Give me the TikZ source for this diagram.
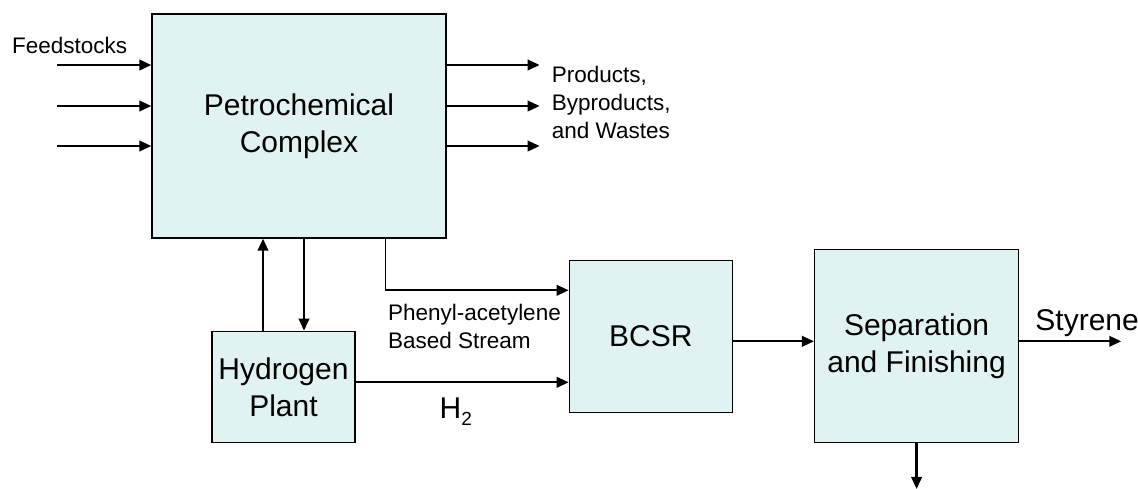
\documentclass[tikz,border=0pt]{standalone}
\usepackage{fontspec}
\setmainfont{Liberation Sans}
\usetikzlibrary{arrows.meta, positioning}
\definecolor{boxfill}{RGB}{225,242,242}

\begin{document}
\begin{tikzpicture}[
				x=1pt, y=-1pt,
				box/.style={draw, line width=1.3pt, fill=boxfill, align=center, inner sep=0pt, font=\fontsize{30}{37}\selectfont},
				lbl/.style={align=left, inner sep=0pt, font=\fontsize{22.5}{28}\selectfont},
				biglbl/.style={inner sep=0pt, font=\fontsize{30}{37}\selectfont},
				arrow/.style={-{Triangle[length=12pt,width=10.5pt]}, line width=2.3pt}
				]
				\useasboundingbox (0,0) rectangle (1138,488);
				
				% Nodes
				\node[box, minimum width=294pt, minimum height=224pt] (petro) at (299,126) {Petrochemical\\Complex};
				\node[box, minimum width=143pt, minimum height=111pt, below=92pt of petro, xshift=-15.5pt] (hyd) {Hydrogen\\Plant};
				\node[box, minimum width=163pt, minimum height=152pt, right=213pt of hyd, yshift=50.5pt] (bcsr) {BCSR};
				\node[box, minimum width=204pt, minimum height=193pt, right=81pt of bcsr, yshift=-9.5pt] (sep) {Separation\\and Finishing};
				
				% Feedstocks in, products out
				\foreach \dy [count=\i] in {61,20,-20} {
					\coordinate (feed\i) at ([xshift=-94pt,yshift=\dy pt]petro.west);
					\coordinate (out\i) at ([xshift=93pt,yshift=\dy pt]petro.east);
					\draw[arrow] (feed\i) -- (feed\i -| petro.west);
					\draw[arrow] (out\i -| petro.east) -- (out\i);
				}
				\node[lbl, anchor=base west] (feedlbl) at (12,53) {Feedstocks};
				\node[lbl, below right=1pt and 12pt of out1] (prodlbl) {Products,\\Byproducts,\\and Wastes};
				
				% Hydrogen loop
				\coordinate (hup) at ([xshift=-20.5pt]hyd.north);
				\coordinate (hdn) at ([xshift=20.5pt]hyd.north);
				\draw[arrow] (hup) -- (hup |- petro.south);
				\draw[arrow] (hdn |- petro.south) -- (hdn);
				
				% Feed to BCSR
				\coordinate (ph0) at ([xshift=86pt]petro.south);
				\coordinate (ph1) at ([yshift=46pt]bcsr.west);
				\coordinate (phbend) at (ph0 |- ph1);
				\draw[line width=1pt] (ph0) -- (phbend);
				\draw[arrow] (phbend) -- (ph1);
				\node[lbl, below right=13.5pt and 3pt of phbend] (phlbl) {Phenyl-acetylene\\Based Stream};
				
				\coordinate (h2a) at ([yshift=4.5pt]hyd.east);
				\draw[arrow] (h2a) -- node[biglbl, below=14pt, pos=0.47] (h2lbl) {H\raisebox{-7pt}{\fontsize{19}{19}\selectfont 2}} (h2a -| bcsr.west);
				
				% Downstream
				\coordinate (bs0) at ([yshift=-5pt]bcsr.east);
				\draw[arrow] (bs0) -- (bs0 -| sep.west);
				\coordinate (sty0) at ([yshift=4.5pt]sep.east);
				\coordinate (styout) at ([xshift=102pt]sty0);
				\draw[arrow] (sty0) -- (styout);
				\node[biglbl, anchor=base west] (stylbl) at ([xshift=16pt,yshift=11pt]sty0) {Styrene};
				\coordinate (waste) at ([yshift=-46pt]sep.south);
				\draw[arrow] (sep.south) -- (waste);
				
			\end{tikzpicture}
\end{document}
